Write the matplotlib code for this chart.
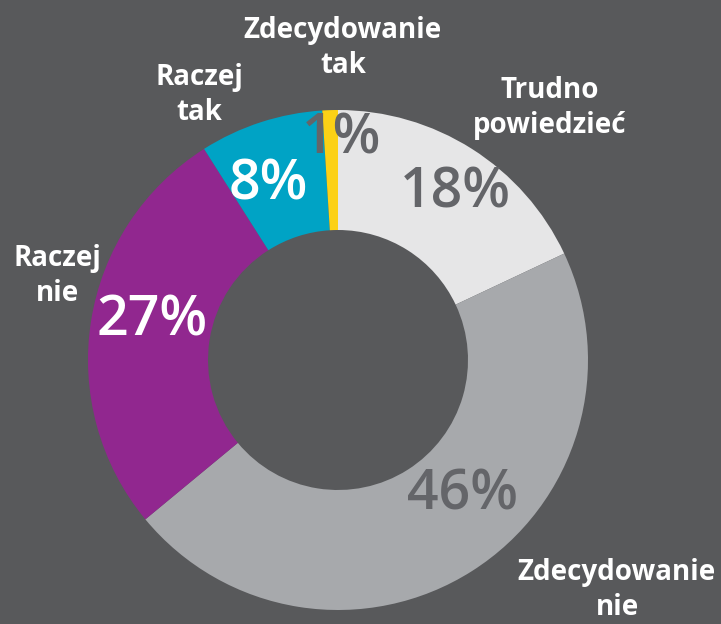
import matplotlib.pyplot as plt

# dane: kolejnosc zgodnie z ruchem wskazowek zegara od gory
kategorie = ['Trudno\npowiedzieć', 'Zdecydowanie\nnie', 'Raczej\nnie', 'Raczej\ntak', 'Zdecydowanie\ntak']
wartosci = [18, 46, 27, 8, 1]
kolory = ['#e6e6e7', '#a7a9ac', '#91278f', '#00a3c5', '#fcd116']
kolor_pct = ['#646569', '#646569', 'white', 'white', '#646569']

W, H = 721, 624
tlo = '#58595b'

fig = plt.figure(figsize=(W / 100, H / 100), dpi=100, facecolor=tlo)
ax = fig.add_axes([0, 0, 1, 1])
ax.set_facecolor(tlo)

def py(y):
    # piksele od gory -> wspolrzedne osi
    return H - y

cx, cy, r = 338, py(360), 250
ax.pie(wartosci, colors=kolory, startangle=90, counterclock=False,
       center=(cx, cy), radius=r, wedgeprops=dict(width=120, linewidth=0))
ax.set_xlim(0, W)
ax.set_ylim(0, H)
ax.set_aspect('equal')
ax.axis('off')

font = 'Open Sans'

# etykiety procentowe
pct_xy = [(455, 193), (462, 495), (152, 322), (268, 185), (342, 140)]
for v, (x, y), c in zip(wartosci, pct_xy, kolor_pct):
    ax.text(x, py(y), f'{v}%', ha='center', va='center', color=c,
            fontsize=40, fontweight='semibold', family=font)

# etykiety kategorii
lab_xy = [(550, 108), (617, 590), (57, 276), (199, 95), (343, 48)]
for k, (x, y) in zip(kategorie, lab_xy):
    ax.text(x, py(y), k, ha='center', va='center', color='white',
            fontsize=20, fontweight='bold', family=font, linespacing=1.25)

fig.savefig('out.png', dpi=100, facecolor=tlo)
